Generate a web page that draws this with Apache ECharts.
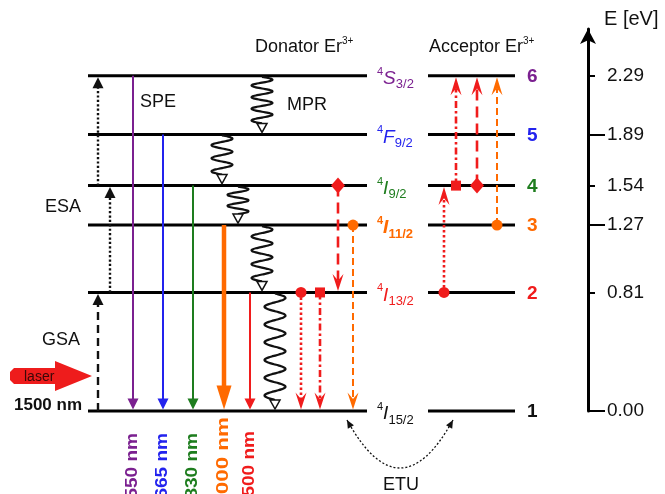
<!DOCTYPE html>
<html>
<head>
<meta charset="utf-8">
<script src="https://cdn.jsdelivr.net/npm/echarts@6/dist/echarts.min.js"></script>
<style>
html, body { margin: 0; padding: 0; background: #fff; }
#main { width: 665px; height: 494px; }
</style>
</head>
<body>
<div id="main"></div>
<script>
var FONT = '"Liberation Sans", Arial, Helvetica, sans-serif';

// Er3+ levels, index 0 = ground state 4I15/2
var levelE = [0.00, 0.81, 1.27, 1.54, 1.89, 2.29];
var levelNum = ['1', '2', '3', '4', '5', '6'];
var levelTerm = [['I', '15/2'], ['I', '13/2'], ['I', '11/2'], ['I', '9/2'], ['F', '9/2'], ['S', '3/2']];
var levelColor = ['#111111', '#f01c1c', '#ff6a00', '#1e7d1e', '#2323ee', '#7b2090'];
var tickLabels = ['0.00', '0.81', '1.27', '1.54', '1.89', '2.29'];
// the axis alternates long and short ticks
var shortTicks = [0.81, 1.54, 2.29];
var longTicks = [0.00, 1.27, 1.89];

// spontaneous emission (SPE) to the ground state
var speFrom = [6, 5, 4, 3, 2];
var speLabel = ['550 nm', '665 nm', '830 nm', '1000 nm', '1500 nm'];
var speColor = ['#7b2090', '#2323ee', '#1e7d1e', '#ff6a00', '#f01c1c'];

// multiphonon relaxation (MPR)
var mprFrom = [6, 5, 4, 3, 2];
var mprTo = [5, 4, 3, 2, 1];
var mprWaves = [4, 3, 2.5, 4, 6];

// absorption: GSA then two ESA steps
var absFrom = [1, 2, 4];
var absTo = [2, 4, 6];

// energy transfer upconversion, donor side and acceptor side
var etDonFrom = [4, 3, 2, 2];
var etDonTo = [2, 1, 1, 1];
var etAccFrom = [4, 3, 2, 4];
var etAccTo = [6, 6, 4, 6];
var etMarker = ['diamond', 'circle', 'circle', 'rect'];
var etColor = ['#f01c1c', '#ff6a00', '#f01c1c', '#f01c1c'];

// ---- layout (x in axis units, equal to pixels) ----
var donorX = [88, 367];
var accX = [428, 515];
var termX = 377;
var numX = 527;
var speX = [133, 163, 193, 224, 250];
var speTextTop = [22, 22, 22, 6, 20];
var speTextScale = [1.12, 1.12, 1.12, 1.32, 1.12];
var mprX = [262, 222, 238, 262, 275];
var absX = [98, 110, 98];
var absDash = [[8, 5], [2.2, 2.2], [2.2, 2.2]];
var etDonX = [338, 353, 301, 320];
var etAccX = [477, 497, 444, 456];
var etDash = [[11, 6], [7, 4], [2.5, 2.5], [7, 3, 2.5, 3]];

function headPts(tx, ty, dx, dy, w, h, notch) {
    var len = Math.sqrt(dx * dx + dy * dy);
    dx /= len; dy /= len;
    var nx = -dy, ny = dx;
    var bx = tx - dx * h, by = ty - dy * h;
    var pts = [[tx, ty], [bx + nx * w / 2, by + ny * w / 2]];
    if (notch) pts.push([tx - dx * h * notch, ty - dy * h * notch]);
    pts.push([bx - nx * w / 2, by - ny * w / 2]);
    return pts;
}

function vArrow(x, y0, y1, o) {
    var dir = y1 > y0 ? 1 : -1;
    var lineEnd = y1 - dir * o.h * (o.notch ? o.notch : 0.9);
    var ls = { stroke: o.color, lineWidth: o.lw };
    if (o.dash) ls.lineDash = o.dash;
    return [
        { type: 'line', shape: { x1: x, y1: y0, x2: x, y2: lineEnd }, style: ls },
        { type: 'polygon', shape: { points: headPts(x, y1, 0, dir, o.w, o.h, o.notch) },
          style: { fill: o.fill || o.color, stroke: o.stroke || null, lineWidth: o.slw || 0 } }
    ];
}

function yOf(api, lvl) {
    return api.coord([0, levelE[lvl - 1]])[1];
}

function marker(kind, x, y, color) {
    if (kind === 'circle') return { type: 'circle', shape: { cx: x, cy: y, r: 5.5 }, style: { fill: color } };
    if (kind === 'rect') return { type: 'rect', shape: { x: x - 5, y: y - 5, width: 10, height: 10 }, style: { fill: color } };
    return { type: 'polygon', shape: { points: [[x, y - 8], [x + 7, y], [x, y + 8], [x - 7, y]] }, style: { fill: color } };
}

var chart = echarts.init(document.getElementById('main'));

var option = {
    animation: false,
    grid: { left: 0, right: 77, top: 29, bottom: 83 },
    xAxis: { type: 'value', min: 0, max: 588, show: false },
    yAxis: [{
        type: 'value',
        position: 'right',
        min: 0,
        max: 2.61,
        name: 'E [eV]',
        nameLocation: 'end',
        nameGap: 10,
        nameTextStyle: { color: '#111', fontSize: 20, fontFamily: FONT, align: 'left', verticalAlign: 'middle', padding: [0, 0, 0, 16] },
        axisLine: { show: true, onZero: false, symbol: ['none', 'arrow'], symbolSize: [12, 15], lineStyle: { color: '#000', width: 3 } },
        axisTick: { show: true, customValues: shortTicks, length: 7, lineStyle: { color: '#000', width: 2 } },
        axisLabel: {
            customValues: levelE,
            margin: 19,
            color: '#111',
            fontSize: 19,
            fontFamily: FONT,
            formatter: function (v) { return tickLabels[levelE.indexOf(v)]; }
        },
        splitLine: { show: false }
    }, {
        type: 'value',
        position: 'right',
        min: 0,
        max: 2.61,
        axisLine: { show: false, onZero: false },
        axisTick: { show: true, customValues: longTicks, length: 17, lineStyle: { color: '#000', width: 2 } },
        axisLabel: { show: false },
        splitLine: { show: false }
    }],
    graphic: [
        { type: 'text', x: 255, y: 47, style: { text: '{m|Donator Er}{s|3+}', align: 'left', verticalAlign: 'middle', fill: '#111', fontFamily: FONT,
            rich: { m: { fontSize: 18, lineHeight: 22, fontFamily: FONT, fill: '#111' }, s: { fontSize: 10, lineHeight: 10, verticalAlign: 'top', fontFamily: FONT, fill: '#111' } } } },
        { type: 'text', x: 429, y: 47, style: { text: '{m|Acceptor Er}{s|3+}', align: 'left', verticalAlign: 'middle', fill: '#111', fontFamily: FONT,
            rich: { m: { fontSize: 18, lineHeight: 22, fontFamily: FONT, fill: '#111' }, s: { fontSize: 10, lineHeight: 10, verticalAlign: 'top', fontFamily: FONT, fill: '#111' } } } },
        { type: 'text', x: 140, y: 102, style: { text: 'SPE', font: '18px ' + FONT, fill: '#111', align: 'left', verticalAlign: 'middle' } },
        { type: 'text', x: 287, y: 105, style: { text: 'MPR', font: '18px ' + FONT, fill: '#111', align: 'left', verticalAlign: 'middle' } },
        { type: 'text', x: 45, y: 207, style: { text: 'ESA', font: '18px ' + FONT, fill: '#111', align: 'left', verticalAlign: 'middle' } },
        { type: 'text', x: 42, y: 340, style: { text: 'GSA', font: '18px ' + FONT, fill: '#111', align: 'left', verticalAlign: 'middle' } },
        { type: 'text', x: 14, y: 405, style: { text: '1500 nm', font: 'bold 17px ' + FONT, fill: '#111', align: 'left', verticalAlign: 'middle' } },
        { type: 'text', x: 401, y: 485, style: { text: 'ETU', font: '18px ' + FONT, fill: '#111', align: 'center', verticalAlign: 'middle' } },
        { type: 'polygon', shape: { points: [[14, 368], [55, 368], [55, 361], [92, 376], [55, 391], [55, 384], [14, 384], [10, 380], [10, 372]] },
          style: { fill: '#ee1c1c' } },
        { type: 'text', x: 24, y: 377, style: { text: 'laser', font: '14px ' + FONT, fill: '#3a0808', align: 'left', verticalAlign: 'middle' } }
    ],
    series: [
        {
            name: 'levels',
            type: 'custom',
            data: levelE.map(function (e, i) { return [0, e]; }),
            renderItem: function (params, api) {
                var i = params.dataIndex;
                var y = api.coord([0, levelE[i]])[1];
                var c = levelColor[i];
                var fw = i === 2 ? 'bold' : 'normal';
                var t = levelTerm[i];
                return {
                    type: 'group',
                    children: [
                        { type: 'line', shape: { x1: donorX[0], y1: y, x2: donorX[1], y2: y }, style: { stroke: '#000', lineWidth: 3 } },
                        { type: 'line', shape: { x1: accX[0], y1: y, x2: accX[1], y2: y }, style: { stroke: '#000', lineWidth: 3 } },
                        { type: 'text', x: termX, y: y + 3, style: {
                            text: '{a|4}{b|' + t[0] + '}{c|' + t[1] + '}',
                            align: 'left', verticalAlign: 'middle', fill: c, fontFamily: FONT,
                            rich: {
                                a: { fontSize: 11, lineHeight: 12, verticalAlign: 'top', fill: c, fontWeight: fw, fontFamily: FONT },
                                b: { fontSize: 19, lineHeight: 25, fontStyle: 'italic', fill: c, fontWeight: fw, fontFamily: FONT },
                                c: { fontSize: 13, lineHeight: 13, verticalAlign: 'bottom', fill: c, fontWeight: fw, fontFamily: FONT }
                            } } },
                        { type: 'text', x: numX, y: y + 1, style: { text: levelNum[i], font: 'bold 19px ' + FONT, fill: c, align: 'left', verticalAlign: 'middle' } }
                    ]
                };
            }
        },
        {
            name: 'SPE',
            type: 'custom',
            data: speFrom.map(function (f) { return [0, levelE[f - 1]]; }),
            renderItem: function (params, api) {
                var i = params.dataIndex;
                var x = speX[i];
                var y0 = yOf(api, speFrom[i]);
                var y1 = yOf(api, 1);
                var thick = speFrom[i] === 3;
                var ch = vArrow(x, y0, y1 - 1.5, {
                    color: speColor[i], lw: thick ? 4.5 : 2,
                    w: thick ? 15 : 11, h: thick ? 24 : 11
                });
                ch.push({ type: 'text', x: x - 1, y: y1 + speTextTop[i], rotation: Math.PI / 2, scaleX: speTextScale[i],
                    style: { text: speLabel[i], font: 'bold 17px ' + FONT, fill: speColor[i], align: 'right', verticalAlign: 'middle' } });
                return { type: 'group', children: ch };
            }
        },
        {
            name: 'MPR',
            type: 'custom',
            data: mprFrom.map(function (f) { return [0, levelE[f - 1]]; }),
            renderItem: function (params, api) {
                var i = params.dataIndex;
                var x = mprX[i];
                var y0 = yOf(api, mprFrom[i]) + 1;
                var yTip = yOf(api, mprTo[i]) - 2;
                var hh = 9;
                var yEnd = yTip - hh;
                var n = mprWaves[i], amp = 10.5, steps = Math.round(n * 20);
                var pts = [];
                for (var k = 0; k <= steps; k++) {
                    var t = k / steps;
                    pts.push([x + amp * Math.sin(2 * Math.PI * n * t), y0 + (yEnd - y0) * t]);
                }
                return {
                    type: 'group',
                    children: [
                        { type: 'polyline', shape: { points: pts, smooth: 0.3 }, style: { stroke: '#111', lineWidth: 2.2, fill: null } },
                        { type: 'polygon', shape: { points: headPts(x, yTip, 0, 1, 10, hh) }, style: { fill: '#fff', stroke: '#111', lineWidth: 1.5 } }
                    ]
                };
            }
        },
        {
            name: 'GSA/ESA',
            type: 'custom',
            data: absFrom.map(function (f) { return [0, levelE[f - 1]]; }),
            renderItem: function (params, api) {
                var i = params.dataIndex;
                var y0 = yOf(api, absFrom[i]);
                var y1 = yOf(api, absTo[i]) + 1.5;
                return { type: 'group', children: vArrow(absX[i], y0, y1, { color: '#111', lw: 2.4, dash: absDash[i], w: 11, h: 11 }) };
            }
        },
        {
            name: 'ET donor',
            type: 'custom',
            data: etDonFrom.map(function (f) { return [0, levelE[f - 1]]; }),
            renderItem: function (params, api) {
                var i = params.dataIndex;
                var x = etDonX[i];
                var y0 = yOf(api, etDonFrom[i]);
                var y1 = yOf(api, etDonTo[i]) - 1.5;
                var col = etColor[i];
                var ch = vArrow(x, y0, y1, { color: col, lw: col === '#ff6a00' ? 2 : 2.6, dash: etDash[i], w: 11, h: 17, notch: 0.62 });
                ch.push(marker(etMarker[i], x, y0, col));
                return { type: 'group', children: ch };
            }
        },
        {
            name: 'ET acceptor',
            type: 'custom',
            data: etAccFrom.map(function (f) { return [0, levelE[f - 1]]; }),
            renderItem: function (params, api) {
                var i = params.dataIndex;
                var x = etAccX[i];
                var y0 = yOf(api, etAccFrom[i]);
                var y1 = yOf(api, etAccTo[i]) + 1.5;
                var col = etColor[i];
                var ch = vArrow(x, y0, y1, { color: col, lw: col === '#ff6a00' ? 2 : 2.6, dash: etDash[i], w: 11, h: 18, notch: 0.62 });
                ch.push(marker(etMarker[i], x, y0, col));
                return { type: 'group', children: ch };
            }
        },
        {
            name: 'ETU',
            type: 'custom',
            data: [[0, levelE[0]]],
            renderItem: function (params, api) {
                var y = yOf(api, 1) + 9;
                var xa = 347, xb = 453, cx = 400, cy = y + 96;
                var hl = headPts(xa, y, xa - cx, y - cy, 7, 8);
                var hr = headPts(xb, y, xb - cx, y - cy, 7, 8);
                return {
                    type: 'group',
                    children: [
                        { type: 'bezierCurve', shape: { x1: xa, y1: y, x2: xb, y2: y, cpx1: cx, cpy1: cy },
                          style: { stroke: '#111', lineWidth: 1.3, lineDash: [2, 2], fill: null } },
                        { type: 'polygon', shape: { points: hl }, style: { fill: '#111' } },
                        { type: 'polygon', shape: { points: hr }, style: { fill: '#111' } }
                    ]
                };
            }
        }
    ]
};

chart.setOption(option);
</script>
</body>
</html>
